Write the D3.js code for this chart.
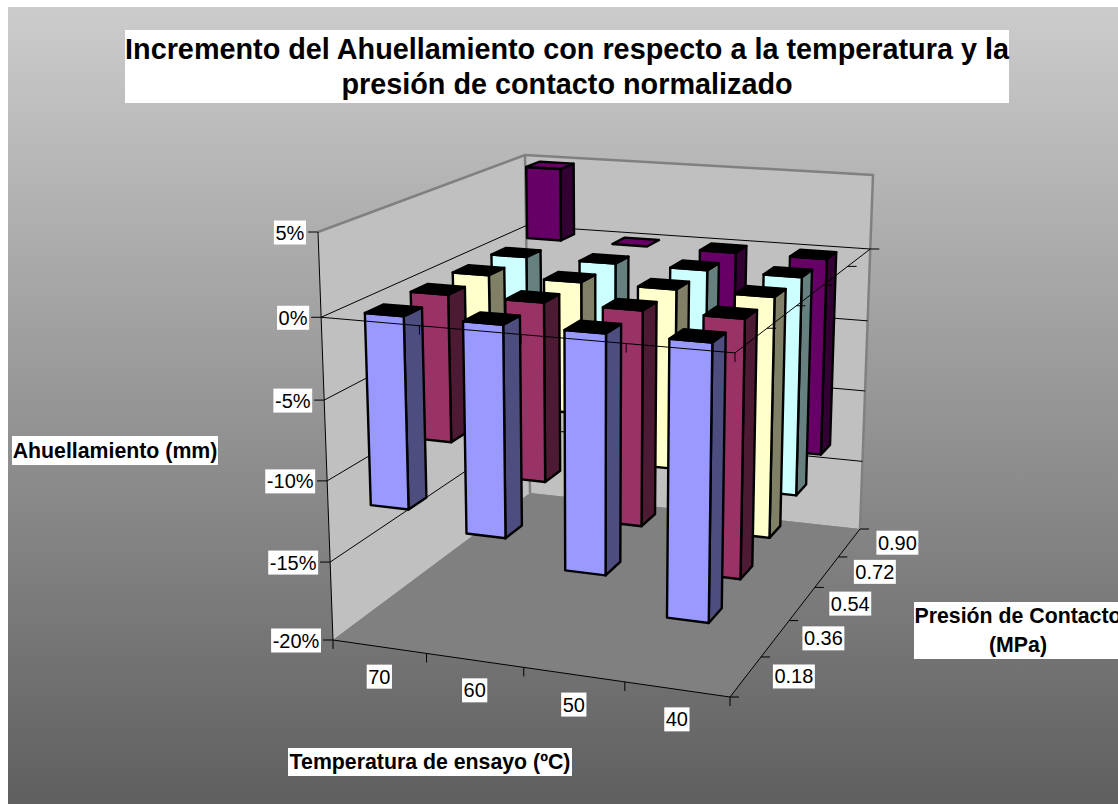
<!DOCTYPE html>
<html>
<head>
<meta charset="utf-8">
<script src="https://cdn.jsdelivr.net/npm/d3@7"></script>
<style>
    html, body { margin: 0; padding: 0; background: #fff; overflow: hidden; }
    text { font-family: "Liberation Sans", Arial, sans-serif; fill: #000; }
</style>
</head>
<body>
<div id="chart"></div>
<script>
// Chart data.
const temperatures = ['70', '60', '50', '40'];
const pressures = ['0.18', '0.36', '0.54', '0.72', '0.90'];
const valueTicks = [5, 0, -5, -10, -15, -20];

const p018 = [-11.85, -12.9, -14.4, -16.5];
const p036 = [-9.4, -11.3, -13.4, -16.0];
const p054 = [-8.0, -8.6, -11.6, -15.4];
const p072 = [-7.0, -8.0, -10.0, -14.5];
const p090 = [4.9, 0, -8.0, -13.5];
const seriesValues = [p018, p036, p054, p072, p090];

const faceColors = ['#9999ff', '#993366', '#ffffcc', '#ccffff', '#660066'];
const sideColors = ['#4d4d80', '#4d1a33', '#808066', '#668080', '#330033'];

const width = 1118;
const height = 804;

// Corners of the 3D box on screen: front-left, front-right, back-right, back-left.
const floorQuad = [[333, 640], [730, 697], [860, 529], [530, 493]];
const topQuad = [[318, 232], [736.3, 262], [873, 175], [525, 155]];

const squareToQuad = function ( q ) {
    const [x0, y0] = q[0], [x1, y1] = q[1], [x2, y2] = q[2], [x3, y3] = q[3];
    const dx1 = x1 - x2, dx2 = x3 - x2, sx = x0 - x1 + x2 - x3;
    const dy1 = y1 - y2, dy2 = y3 - y2, sy = y0 - y1 + y2 - y3;
    const den = dx1 * dy2 - dx2 * dy1;
    const g = ( sx * dy2 - dx2 * sy ) / den;
    const h = ( dx1 * sy - sx * dy1 ) / den;
    const a = x1 - x0 + g * x1, b = x3 - x0 + h * x3;
    const d = y1 - y0 + g * y1, e = y3 - y0 + h * y3;
    return ( u, v ) => {
        const w = g * u + h * v + 1;
        return [( a * u + b * v + x0 ) / w, ( d * u + e * v + y0 ) / w];
    };
};

const floorMap = squareToQuad( floorQuad );
const topMap = squareToQuad( topQuad );

// Height in the box; the picture's value axis is slightly perspective-stretched.
const zScale = d3.scaleLinear()
    .domain( [-20, -15, -10, -5, 0, 5] )
    .range( [0, 0.191, 0.39, 0.588, 0.791, 1] );
const uScale = d3.scaleBand().domain( temperatures ).range( [0, 1] );
const vScale = d3.scaleBand().domain( pressures ).range( [0, 1] );

const barFracU = 0.40;
const barFracV = 0.40;

const project = function ( u, v, value ) {
    const t = zScale( value ), f = floorMap( u, v ), c = topMap( u, v );
    return [f[0] + ( c[0] - f[0] ) * t, f[1] + ( c[1] - f[1] ) * t];
};

const svg = d3.select( '#chart' )
    .append( 'svg' )
    .attr( 'width', width )
    .attr( 'height', height )
    .attr( 'viewBox', [0, 0, width, height] )
    .style( 'display', 'block' );

const grad = svg.append( 'defs' )
    .append( 'linearGradient' )
    .attr( 'id', 'bg' )
    .attr( 'x1', 0 ).attr( 'y1', 0 ).attr( 'x2', 0 ).attr( 'y2', 1 );
grad.append( 'stop' ).attr( 'offset', 0 ).attr( 'stop-color', '#cccccc' );
grad.append( 'stop' ).attr( 'offset', 1 ).attr( 'stop-color', '#5f5f5f' );

svg.append( 'rect' )
    .attr( 'x', 8 ).attr( 'y', 7 )
    .attr( 'width', width - 8 ).attr( 'height', height - 7 )
    .attr( 'fill', 'url(#bg)' );

const line = d3.line();
const poly = ( pts ) => line( pts ) + 'Z';

const drawLine = function ( pts, color, w ) {
    svg.append( 'path' )
        .attr( 'd', line( pts ) )
        .attr( 'fill', 'none' )
        .attr( 'stroke', color )
        .attr( 'stroke-width', w );
};

// Walls and floor.
const zMin = -20, zMax = 5;
svg.append( 'path' )
    .attr( 'd', poly( [project( 0, 0, zMin ), project( 0, 0, zMax ), project( 0, 1, zMax ), project( 0, 1, zMin )] ) )
    .attr( 'fill', '#c0c0c0' );
svg.append( 'path' )
    .attr( 'd', poly( [project( 0, 1, zMin ), project( 0, 1, zMax ), project( 1, 1, zMax ), project( 1, 1, zMin )] ) )
    .attr( 'fill', '#c0c0c0' );
svg.append( 'path' )
    .attr( 'd', poly( [project( 0, 0, zMin ), project( 1, 0, zMin ), project( 1, 1, zMin ), project( 0, 1, zMin )] ) )
    .attr( 'fill', '#808080' );

drawLine( [project( 0, 1, zMin ), project( 0, 1, zMax )], '#808080', 2.5 );
drawLine( [project( 0, 0, zMax ), project( 0, 1, zMax ), project( 1, 1, zMax ), project( 1, 1, zMin )], '#808080', 2.5 );

// Gridlines on the walls, with the ticks of the value axis.
valueTicks.filter( d => d !== zMin ).forEach( function ( d ) {
    if ( d === zMax ) return;
    drawLine( [project( 0, 0, d ), project( 0, 1, d ), project( 1, 1, d )], '#000', 1 );
} );
drawLine( [project( 0, 0, zMin ), project( 0, 0, zMax )], '#000', 1 );
valueTicks.forEach( function ( d ) {
    const p = project( 0, 0, d );
    drawLine( [[p[0] - 10, p[1]], p], '#000', 1 );
} );

// Floor axes.
drawLine( [project( 0, 0, zMin ), project( 1, 0, zMin ), project( 1, 1, zMin )], '#000', 1 );
d3.range( 5 ).forEach( function ( i ) {
    const p = project( i / 4, 0, zMin );
    drawLine( [p, [p[0], p[1] + 9]], '#000', 1 );
} );
d3.range( 6 ).forEach( function ( i ) {
    const p = project( 1, i / 5, zMin );
    drawLine( [p, [p[0] + 9, p[1]]], '#000', 1 );
} );

// Bars, back row first, left to right.
const barRows = d3.range( pressures.length ).reverse();
barRows.forEach( function ( r ) {
    temperatures.forEach( function ( temp, c ) {
        const value = seriesValues[r][c];
        const uMid = uScale( temp ) + uScale.bandwidth() / 2;
        const vMid = vScale( pressures[r] ) + vScale.bandwidth() / 2;
        const u0 = uMid - uScale.bandwidth() * barFracU / 2;
        const u1 = uMid + uScale.bandwidth() * barFracU / 2;
        const v0 = vMid - vScale.bandwidth() * barFracV / 2;
        const v1 = vMid + vScale.bandwidth() * barFracV / 2;
        const hi = Math.max( value, 0 ), lo = Math.min( value, 0 );

        const g = svg.append( 'g' )
            .attr( 'stroke', '#000' )
            .attr( 'stroke-width', 2.4 )
            .attr( 'stroke-linejoin', 'round' );
        if ( hi !== lo ) {
            g.append( 'path' )
                .attr( 'd', poly( [project( u1, v0, hi ), project( u1, v1, hi ), project( u1, v1, lo ), project( u1, v0, lo )] ) )
                .attr( 'fill', sideColors[r] );
            g.append( 'path' )
                .attr( 'd', poly( [project( u0, v0, hi ), project( u1, v0, hi ), project( u1, v0, lo ), project( u0, v0, lo )] ) )
                .attr( 'fill', faceColors[r] );
        }
        g.append( 'path' )
            .attr( 'd', poly( [project( u0, v0, hi ), project( u1, v0, hi ), project( u1, v1, hi ), project( u0, v1, hi )] ) )
            .attr( 'fill', value < 0 ? '#000' : faceColors[r] );
    } );
} );

// The category axes cross at zero and are drawn over the bars.
drawLine( [project( 0, 0, 0 ), project( 1, 0, 0 ), project( 1, 1, 0 )], '#000', 1 );
d3.range( 1, 5 ).forEach( function ( i ) {
    const p = project( i / 4, 0, 0 );
    drawLine( [p, [p[0], p[1] + 9]], '#000', 1 );
} );
d3.range( 1, 6 ).forEach( function ( i ) {
    const p = project( 1, i / 5, 0 );
    drawLine( [p, [p[0] + 9, p[1]]], '#000', 1 );
} );

// Text with a white box behind it. Without boxW the box follows the text.
const label = function ( lines, x, y, size, weight, lineH, boxW, boxH ) {
    const g = svg.append( 'g' );
    const rect = g.append( 'rect' ).attr( 'fill', '#fff' );
    const t = g.append( 'text' )
        .attr( 'x', x )
        .attr( 'text-anchor', 'middle' )
        .attr( 'font-size', size )
        .attr( 'font-weight', weight );
    lines.forEach( function ( s, i ) {
        t.append( 'tspan' )
            .attr( 'x', x )
            .attr( 'y', y + ( i - ( lines.length - 1 ) / 2 ) * lineH + size * 0.35 )
            .text( s );
    } );
    const w = boxW || t.node().getBBox().width + 3;
    rect.attr( 'x', x - w / 2 ).attr( 'y', y - boxH / 2 )
        .attr( 'width', w ).attr( 'height', boxH );
    return w;
};

label( ['Incremento del Ahuellamiento con respecto a la temperatura y la', 'presión de contacto normalizado'],
    567, 66.5, 28.8, 'bold', 34.5, 884, 73 );
label( ['Ahuellamiento (mm)'], 115, 450.5, 21.3, 'bold', 0, 206, 29 );
label( ['Presión de Contacto', '(MPa)'], 1018, 630.5, 21.3, 'bold', 29, 208, 57 );
label( ['Temperatura de ensayo (ºC)'], 430, 762, 21.3, 'bold', 0, 284, 28 );

const tickFont = 20;
valueTicks.forEach( function ( d ) {
    const p = project( 0, 0, d );
    const probe = svg.append( 'text' ).attr( 'font-size', tickFont ).text( d + '%' );
    const w = probe.node().getBBox().width + 3;
    probe.remove();
    label( [d + '%'], p[0] - 12 - w / 2, p[1] + 0.5, tickFont, 'normal', 0, w, 24 );
} );
temperatures.forEach( function ( d ) {
    const p = project( uScale( d ) + uScale.bandwidth() / 2, 0, zMin );
    label( [d], p[0], p[1] + 30, tickFont, 'normal', 0, 0, 24 );
} );
pressures.forEach( function ( d ) {
    const p = project( 1, vScale( d ) + vScale.bandwidth() / 2, zMin );
    label( [d], p[0] + 48, p[1], tickFont, 'normal', 0, 0, 24 );
} );
</script>
</body>
</html>
